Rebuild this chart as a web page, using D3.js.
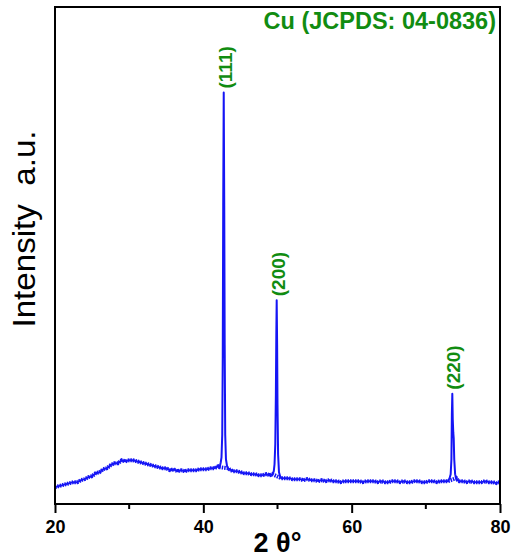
<!DOCTYPE html>
<html lang="en">

<head>
    <meta charset="UTF-8">
    <title>XRD Cu</title>
    <script src="https://d3js.org/d3.v7.min.js"></script>
    <style>
        body { margin: 0; background: #fff; }
        text { font-family: "Liberation Sans", Arial, sans-serif; }
    </style>
</head>

<body>
    <svg width="515" height="557"></svg>

    <script>
        // 2 theta (deg) and intensity (a.u.)
        const twoTheta = [
            20.0, 20.5, 21.0, 21.5, 22.0, 22.5, 23.0, 23.5, 24.0, 24.5,
            25.0, 25.5, 26.0, 26.5, 27.0, 27.5, 28.0, 28.5, 29.0, 29.5,
            30.0, 30.5, 31.0, 31.5, 32.0, 32.5, 33.0, 33.5, 34.0, 34.5,
            35.0, 35.5, 36.0, 36.5, 37.0, 37.5, 38.0, 38.5, 39.0, 39.5,
            40.0, 40.5, 41.0, 41.5, 42.0,
            42.2, 42.35, 42.45, 42.55, 42.62, 42.68, 42.75, 42.82, 42.88, 42.95, 43.05, 43.2, 43.35,
            43.5, 44.0, 44.5, 45.0, 45.5, 46.0, 46.5, 47.0, 47.5, 48.0, 48.5, 49.0,
            49.3, 49.5, 49.6, 49.7, 49.78, 49.84, 49.89, 49.95, 50.0, 50.08, 50.2, 50.35,
            50.5, 51.0, 51.5, 52.0, 52.5, 53.0, 53.5, 54.0, 54.5, 55.0,
            55.5, 56.0, 56.5, 57.0, 57.5, 58.0, 58.5, 59.0, 59.5, 60.0,
            60.5, 61.0, 61.5, 62.0, 62.5, 63.0, 63.5, 64.0, 64.5, 65.0,
            65.5, 66.0, 66.5, 67.0, 67.5, 68.0, 68.5, 69.0, 69.5, 70.0,
            70.5, 71.0, 71.5, 72.0, 72.5, 73.0,
            73.2, 73.35, 73.45, 73.51, 73.57, 73.63, 73.7, 73.76, 73.83, 73.95, 74.1, 74.3,
            74.5, 75.0, 75.5, 76.0, 76.5, 77.0, 77.5, 78.0, 78.5, 79.0, 79.5, 80.0
        ];
        const intensity = [
            17, 18, 19, 20, 21, 22, 22, 24, 25, 27,
            28, 31, 32, 35, 36, 39, 41, 41, 44, 43,
            44, 44, 43, 42, 41, 40, 39, 38, 37, 36,
            36, 34, 35, 33, 34, 33, 34, 34, 34, 35,
            35, 35, 36, 36, 38,
            37, 42, 47, 70, 150, 300, 414, 300, 160, 70, 45, 38, 36,
            35, 33, 33, 32, 31, 31, 30, 30, 29, 29, 30, 29,
            30, 33, 40, 60, 110, 170, 205, 160, 100, 50, 32, 28,
            26, 26, 26, 25, 25, 25, 24, 25, 24, 24,
            23, 24, 23, 24, 23, 23, 22, 23, 23, 23,
            23, 23, 22, 23, 23, 23, 22, 23, 22, 22,
            23, 23, 22, 23, 22, 22, 23, 23, 22, 22,
            23, 23, 22, 23, 23, 23,
            26, 30, 45, 90, 111, 85, 72, 66, 45, 30, 26, 24,
            23, 23, 22, 23, 22, 22, 22, 23, 22, 22, 21, 22
        ];

        const peakHkl = ['(111)', '(200)', '(220)'];
        const peakPos = [42.75, 49.89, 73.57];
        const xTicks = [20, 40, 60, 80];
        const xMinorTicks = [30, 50, 70];
        const phaseLabel = 'Cu (JCPDS: 04-0836)';

        const svg = d3.select('svg');
        const margin = { left: 55, right: 15, top: 7, bottom: 53 };
        const width = 515 - margin.left - margin.right;
        const height = 557 - margin.top - margin.bottom;

        const g = svg.append('g')
            .attr('transform', `translate(${margin.left},${margin.top})`);

        const x = d3.scaleLinear().domain([20, 80]).range([0, width]);
        const y = d3.scaleLinear().domain([0, 500]).range([height, 0]);

        const points = twoTheta.map((t, i) => [t, intensity[i]]);
        const green = '#118c11';

        // pattern (thick stroke stands in for the noise band)
        g.append('path')
            .datum(points)
            .attr('fill', 'none')
            .attr('stroke', '#1515f5')
            .attr('stroke-width', 2)
            .attr('stroke-linejoin', 'round')
            .attr('d', d3.line().x(d => x(d[0])).y(d => y(d[1])));
        g.append('path')
            .datum(points.filter(d => !peakPos.some(p => Math.abs(d[0] - p) < 0.5)))
            .attr('fill', 'none')
            .attr('stroke', '#1515f5')
            .attr('stroke-width', 4)
            .attr('stroke-dasharray', '1.5,1')
            .attr('d', d3.line().x(d => x(d[0])).y(d => y(d[1])).defined(d => true));

        // frame
        g.append('rect')
            .attr('width', width)
            .attr('height', height)
            .attr('fill', 'none')
            .attr('stroke', '#000')
            .attr('stroke-width', 2);

        // bottom axis
        const xAxis = g.append('g')
            .attr('transform', `translate(0,${height})`)
            .call(d3.axisBottom(x).tickValues(xTicks).tickSize(9).tickPadding(7).tickFormat(d3.format('d')));
        xAxis.select('.domain').remove();
        xAxis.selectAll('line').attr('stroke-width', 2);
        xAxis.selectAll('text')
            .attr('font-size', 18)
            .attr('font-weight', 'bold')
            .attr('fill', '#000')
            .style('font-family', '"Liberation Sans", Arial, sans-serif');

        g.append('g')
            .selectAll('line')
            .data(xMinorTicks)
            .enter()
            .append('line')
            .attr('x1', d => x(d)).attr('x2', d => x(d))
            .attr('y1', height).attr('y2', height + 5)
            .attr('stroke', '#000')
            .attr('stroke-width', 2);

        // axis titles
        svg.append('text')
            .attr('x', margin.left + width / 2)
            .attr('y', 552)
            .attr('text-anchor', 'middle')
            .attr('font-size', 27)
            .attr('font-weight', 'bold')
            .text('2 θ°');

        svg.append('text')
            .attr('transform', `translate(35,${229}) rotate(-90)`)
            .attr('text-anchor', 'middle')
            .attr('font-size', 32)
            .style('white-space', 'pre')
            .attr('xml:space', 'preserve')
            .text('Intensity  a.u.')
            .attr('textLength', 197)
            .attr('lengthAdjust', 'spacingAndGlyphs');

        // phase label
        g.append('text')
            .attr('x', width - 4)
            .attr('y', 22)
            .attr('text-anchor', 'end')
            .attr('font-size', 23.5)
            .attr('font-weight', 'bold')
            .attr('fill', green)
            .text(phaseLabel);

        // hkl labels above each peak
        peakPos.forEach((p, i) => {
            const near = points.filter(d => Math.abs(d[0] - p) < 0.3);
            const top = d3.max(near, d => d[1]);
            g.append('text')
                .attr('transform', `translate(${x(p) + 8},${y(top) - 4}) rotate(-90)`)
                .attr('text-anchor', 'start')
                .attr('font-size', 19)
                .attr('font-weight', 'bold')
                .attr('fill', green)
                .text(peakHkl[i]);
        });
    </script>
</body>

</html>
